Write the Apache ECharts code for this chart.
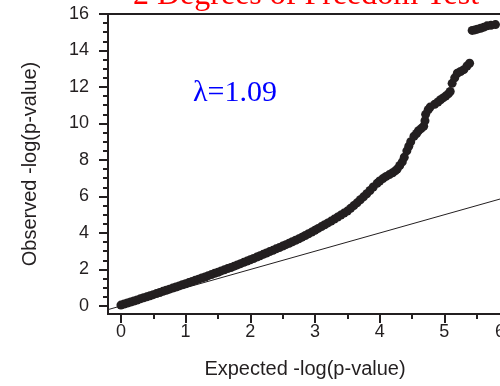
<!DOCTYPE html>
<html>
<head>
<meta charset="utf-8">
<script src="https://cdn.jsdelivr.net/npm/echarts@6/dist/echarts.min.js"></script>
<style>
  html, body { margin: 0; padding: 0; background: #fff; overflow: hidden; }
  /* the plot runs past the right edge of the window, as in the original */
  #qq { width: 522px; height: 386px; }
</style>
</head>
<body>
<div id="qq"></div>
<script>
// expected -log(p) vs observed -log(p)
const expected = [
  0.00, 0.05, 0.10, 0.15, 0.20, 0.25, 0.30, 0.35, 0.40, 0.45,
  0.50, 0.55, 0.60, 0.65, 0.70, 0.75, 0.80, 0.85, 0.90, 0.95,
  1.00, 1.05, 1.10, 1.15, 1.20, 1.25, 1.30, 1.35, 1.40, 1.45,
  1.50, 1.55, 1.60, 1.65, 1.70, 1.75, 1.80, 1.85, 1.90, 1.95,
  2.00, 2.05, 2.10, 2.15, 2.20, 2.25, 2.30, 2.35, 2.40, 2.45,
  2.50, 2.55, 2.60, 2.65, 2.70, 2.75, 2.80, 2.85, 2.90, 2.95,
  3.00, 3.05, 3.10, 3.15, 3.20, 3.25, 3.30, 3.35, 3.40, 3.45,
  3.50, 3.55, 3.60, 3.65, 3.70, 3.75, 3.80, 3.85, 3.90, 3.96,
  4.00, 4.05, 4.10, 4.15, 4.20, 4.24, 4.27, 4.31, 4.35, 4.38,
  4.42, 4.45, 4.48, 4.53, 4.57, 4.60, 4.64, 4.68, 4.70, 4.71,
  4.75, 4.78, 4.85, 4.90, 4.94, 4.98, 5.02, 5.06, 5.09,
  5.12, 5.16, 5.20, 5.25, 5.30, 5.35, 5.39,
  5.43, 5.47, 5.51, 5.56, 5.61, 5.66, 5.72, 5.79
];
const observed = [
  0.05, 0.11, 0.16, 0.22, 0.27, 0.33, 0.39, 0.45, 0.50, 0.56,
  0.62, 0.68, 0.74, 0.80, 0.86, 0.92, 0.98, 1.04, 1.10, 1.16,
  1.22, 1.28, 1.34, 1.41, 1.47, 1.53, 1.59, 1.66, 1.72, 1.79,
  1.85, 1.92, 1.98, 2.05, 2.11, 2.18, 2.25, 2.32, 2.39, 2.46,
  2.53, 2.60, 2.68, 2.75, 2.83, 2.90, 2.98, 3.05, 3.13, 3.20,
  3.28, 3.36, 3.44, 3.52, 3.60, 3.68, 3.77, 3.86, 3.96, 4.05,
  4.15, 4.25, 4.35, 4.45, 4.55, 4.65, 4.76, 4.87, 4.98, 5.09,
  5.20, 5.35, 5.50, 5.65, 5.82, 5.98, 6.15, 6.33, 6.52, 6.72,
  6.85, 6.98, 7.10, 7.20, 7.30, 7.40, 7.50, 7.70, 7.90, 8.15,
  8.50, 8.75, 9.00, 9.30, 9.45, 9.60, 9.72, 9.85, 10.15, 10.50,
  10.75, 10.90, 11.05, 11.18, 11.30, 11.40, 11.50, 11.62, 11.75,
  12.20, 12.50, 12.75, 12.85, 12.95, 13.15, 13.30,
  15.10, 15.13, 15.17, 15.22, 15.28, 15.35, 15.38, 15.42
];
// y = x reference line ends
const nullLine = [-0.2, 6.2];

const xLabels = [0, 1, 2, 3, 4, 5, 6];
const xTicks = [0, 0.5, 1, 1.5, 2, 2.5, 3, 3.5, 4, 4.5, 5, 5.5, 6];
const yLabels = [0, 2, 4, 6, 8, 10, 12, 14, 16];
const yTicks = [0, 0.5, 1, 1.5, 2, 2.5, 3, 3.5, 4, 4.5, 5, 5.5, 6, 6.5, 7, 7.5,
  8, 8.5, 9, 9.5, 10, 10.5, 11, 11.5, 12, 12.5, 13, 13.5, 14, 14.5, 15, 15.5, 16];

const ink = "#231f20";
const sans = "'Liberation Sans', Arial, sans-serif";
const serif = "'Liberation Serif', 'Times New Roman', serif";

let myChart = echarts.init(document.getElementById("qq"));

let points = expected.map((x, i) => [x, observed[i]]);

myChart.setOption({
  animation: false,
  grid: {
    left: 108,
    top: 14,
    right: 0,
    height: 300,
    show: true,
    borderColor: ink,
    borderWidth: 2,
  },
  xAxis: [
    {
      type: "value",
      min: -0.2,
      max: 6.2,
      position: "bottom",
      axisLine: { onZero: false, lineStyle: { color: ink, width: 2 } },
      axisTick: { customValues: xTicks, length: 5, lineStyle: { color: ink, width: 2 } },
      axisLabel: {
        customValues: xLabels,
        margin: 9,
        color: ink,
        fontSize: 18,
        fontFamily: sans,
        // last label is pulled in from the edge in the original
        formatter: (v) => (v === 6 ? "{edge|6}" : String(v)),
        rich: {
          edge: { padding: [0, 18, 0, 0], color: ink, fontSize: 18, fontFamily: sans },
        },
      },
      splitLine: { show: false },
    },
    {
      // longer ticks at whole numbers
      type: "value",
      min: -0.2,
      max: 6.2,
      position: "bottom",
      axisLine: { show: false, onZero: false },
      axisTick: { customValues: xLabels, length: 9, lineStyle: { color: ink, width: 2 } },
      axisLabel: { show: false },
      splitLine: { show: false },
    },
  ],
  yAxis: [
    {
      type: "value",
      min: -0.44,
      max: 16,
      position: "left",
      axisLine: { onZero: false, lineStyle: { color: ink, width: 2 } },
      axisTick: { customValues: yTicks, length: 5, lineStyle: { color: ink, width: 2 } },
      axisLabel: {
        customValues: yLabels,
        margin: 19,
        color: ink,
        fontSize: 18,
        fontFamily: sans,
      },
      splitLine: { show: false },
    },
    {
      type: "value",
      min: -0.44,
      max: 16,
      position: "left",
      axisLine: { show: false, onZero: false },
      axisTick: { customValues: yLabels, length: 9, lineStyle: { color: ink, width: 2 } },
      axisLabel: { show: false },
      splitLine: { show: false },
    },
  ],
  series: [
    {
      type: "line",
      data: [
        [nullLine[0], nullLine[0]],
        [nullLine[1], nullLine[1]],
      ],
      symbol: "none",
      lineStyle: { color: ink, width: 1 },
      clip: true,
      silent: true,
    },
    {
      type: "scatter",
      data: points,
      symbol: "circle",
      symbolSize: 9,
      itemStyle: { color: ink, opacity: 1 },
      clip: true,
    },
  ],
  graphic: [
    {
      type: "text",
      x: 306,
      y: -4,
      style: {
        text: "2 Degrees of Freedom Test",
        fill: "#ff0000",
        font: "32px " + serif,
        align: "center",
        verticalAlign: "middle",
      },
    },
    {
      type: "text",
      x: 235,
      y: 93,
      style: {
        text: "λ=1.09",
        fill: "#0000ff",
        font: "30px " + serif,
        align: "center",
        verticalAlign: "middle",
      },
    },
    {
      type: "text",
      x: 305,
      y: 369,
      style: {
        text: "Expected -log(p-value)",
        fill: ink,
        font: "20px " + sans,
        align: "center",
        verticalAlign: "middle",
      },
    },
    {
      type: "text",
      x: 30,
      y: 164,
      rotation: Math.PI / 2,
      style: {
        text: "Observed -log(p-value)",
        fill: ink,
        font: "20px " + sans,
        align: "center",
        verticalAlign: "middle",
      },
    },
  ],
});
</script>
</body>
</html>
